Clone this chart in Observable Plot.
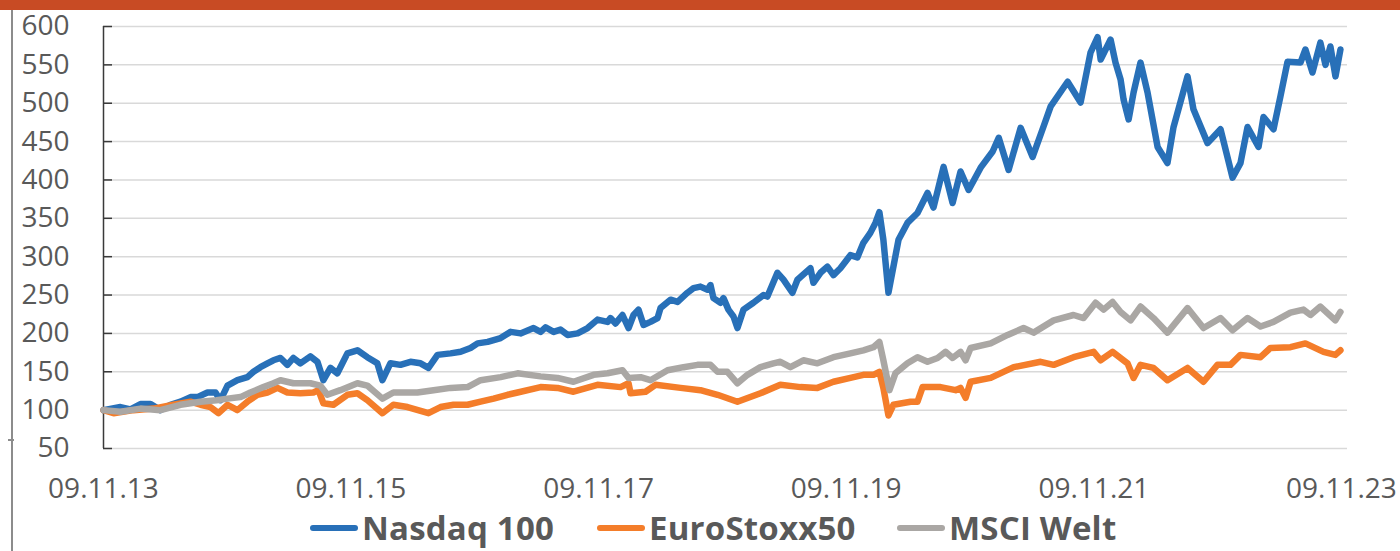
<!DOCTYPE html>
<html>
<head>
<meta charset="utf-8">
<script src="https://cdn.jsdelivr.net/npm/d3@7"></script>
<script src="https://cdn.jsdelivr.net/npm/@observablehq/plot@0.6"></script>
<style>
  html, body { margin: 0; padding: 0; background: #fff; }
  #wrap { position: relative; width: 1400px; height: 551px; overflow: hidden; background: #fff; }
  #banner { position: absolute; left: 0; top: 0; width: 1400px; height: 10px; background: #C84B24; }
  #leftline { position: absolute; left: 11px; top: 10px; width: 2px; height: 541px; background: #8C8C8C; }
  #lefttick { position: absolute; left: 8px; top: 439px; width: 6px; height: 2px; background: #8C8C8C; }
  #chart { position: absolute; left: 0; top: 0; }
  .leg { position: absolute; top: 511px; height: 33px; line-height: 33px; display: flex; align-items: center; font-family: "Open Sans", sans-serif; font-weight: 700; font-size: 33px; color: #595959; white-space: nowrap; letter-spacing: 0.2px; }
  .sw { width: 48px; height: 6px; border-radius: 3px; margin-right: 4px; }
</style>
</head>
<body>
<div id="wrap">
  <div id="banner"></div>
  <div id="leftline"></div>
  <div id="lefttick"></div>
  <div id="chart"></div>
  <div id="legend"></div>
</div>
<script>
// ---- Data (decimal years, index values, start = 100) ----
const seriesNames = ["Nasdaq 100", "EuroStoxx50", "MSCI Welt"];
const seriesColors = ["#2870B8", "#F47D2A", "#AAA7A4"];

const nasdaqTime = [2013.855,2013.992,2014.073,2014.154,2014.235,2014.315,2014.396,2014.477,2014.558,2014.614,2014.695,2014.760,2014.800,2014.857,2014.937,2015.018,2015.067,2015.123,2015.180,2015.228,2015.285,2015.341,2015.390,2015.446,2015.527,2015.584,2015.632,2015.689,2015.745,2015.826,2015.907,2015.987,2016.068,2016.109,2016.173,2016.254,2016.335,2016.416,2016.480,2016.553,2016.658,2016.739,2016.819,2016.876,2016.957,2017.062,2017.143,2017.223,2017.328,2017.385,2017.425,2017.490,2017.546,2017.603,2017.684,2017.765,2017.845,2017.926,2017.950,2017.991,2018.047,2018.096,2018.136,2018.176,2018.217,2018.273,2018.330,2018.354,2018.435,2018.492,2018.572,2018.621,2018.677,2018.734,2018.758,2018.782,2018.839,2018.863,2018.903,2018.944,2018.976,2019.025,2019.105,2019.186,2019.218,2019.299,2019.348,2019.420,2019.461,2019.566,2019.590,2019.647,2019.703,2019.752,2019.808,2019.889,2019.945,2019.994,2020.050,2020.091,2020.123,2020.155,2020.196,2020.236,2020.277,2020.349,2020.430,2020.511,2020.559,2020.640,2020.713,2020.777,2020.842,2020.939,2021.036,2021.085,2021.165,2021.262,2021.359,2021.448,2021.505,2021.642,2021.747,2021.827,2021.884,2021.909,2021.989,2022.029,2022.070,2022.094,2022.135,2022.175,2022.231,2022.288,2022.369,2022.449,2022.498,2022.611,2022.659,2022.773,2022.878,2022.975,2023.039,2023.096,2023.185,2023.225,2023.306,2023.362,2023.419,2023.524,2023.564,2023.621,2023.685,2023.726,2023.766,2023.807,2023.847];
const nasdaqValue = [100,104,101,108,108,100,107,111,117,117,123,123,113,132,139,143,150,156,161,165,168,159,168,161,170,163,139,155,148,174,178,169,161,139,161,159,163,161,155,172,174,176,181,187,189,194,202,200,207,202,208,202,205,198,200,207,218,215,220,213,224,207,224,231,211,215,220,233,244,241,253,259,261,257,263,246,240,246,231,222,207,231,240,250,248,279,270,253,270,285,266,279,287,276,285,302,299,318,331,344,358,322,253,287,322,344,357,383,364,417,370,411,387,416,437,455,413,468,430,470,496,528,501,566,586,557,583,553,531,505,479,514,553,514,443,422,469,535,492,448,466,403,422,469,443,482,466,509,554,553,570,540,579,550,574,535,570];

const euroTime = [2013.855,2013.936,2014.097,2014.259,2014.420,2014.558,2014.639,2014.719,2014.784,2014.857,2014.937,2015.018,2015.099,2015.180,2015.261,2015.341,2015.446,2015.551,2015.592,2015.632,2015.713,2015.826,2015.907,2015.987,2016.109,2016.197,2016.311,2016.480,2016.577,2016.682,2016.795,2016.900,2017.005,2017.118,2017.199,2017.385,2017.522,2017.651,2017.845,2018.031,2018.096,2018.112,2018.233,2018.314,2018.516,2018.677,2018.815,2018.976,2019.162,2019.323,2019.485,2019.622,2019.752,2019.889,2019.994,2020.075,2020.123,2020.155,2020.196,2020.236,2020.374,2020.430,2020.471,2020.616,2020.737,2020.777,2020.818,2020.858,2021.020,2021.206,2021.424,2021.529,2021.690,2021.852,2021.908,2022.005,2022.126,2022.175,2022.231,2022.336,2022.449,2022.611,2022.740,2022.853,2022.958,2023.039,2023.201,2023.281,2023.443,2023.564,2023.710,2023.806,2023.847];
const euroValue = [100,96,100,102,107,111,107,104,96,107,100,111,120,123,129,123,122,123,126,109,107,120,122,113,96,107,104,96,104,107,107,111,115,120,123,130,129,124,133,130,135,122,124,133,129,126,120,111,122,133,130,129,137,142,146,146,150,129,93,107,111,111,130,130,126,129,116,137,142,156,163,159,169,176,165,176,161,142,159,155,139,155,137,159,159,172,169,181,182,187,176,172,178];

const msciTime = [2013.855,2013.992,2014.154,2014.315,2014.477,2014.639,2014.768,2014.857,2014.962,2015.042,2015.147,2015.228,2015.285,2015.390,2015.527,2015.608,2015.664,2015.769,2015.907,2015.987,2016.109,2016.197,2016.391,2016.521,2016.658,2016.795,2016.900,2017.062,2017.199,2017.385,2017.522,2017.651,2017.813,2017.926,2018.047,2018.096,2018.193,2018.273,2018.411,2018.540,2018.653,2018.758,2018.815,2018.895,2018.976,2019.057,2019.162,2019.267,2019.323,2019.404,2019.509,2019.622,2019.752,2019.889,2019.994,2020.075,2020.123,2020.155,2020.204,2020.252,2020.349,2020.430,2020.511,2020.592,2020.656,2020.713,2020.777,2020.818,2020.858,2021.020,2021.157,2021.286,2021.367,2021.529,2021.690,2021.771,2021.868,2021.933,2022.005,2022.070,2022.151,2022.231,2022.336,2022.449,2022.530,2022.611,2022.740,2022.878,2022.975,2023.096,2023.201,2023.306,2023.443,2023.548,2023.605,2023.685,2023.806,2023.847];
const msciValue = [100,98,102,100,107,111,113,115,117,123,130,135,139,135,135,132,120,126,135,132,115,123,123,126,129,130,139,143,148,144,142,137,146,148,152,142,143,139,152,156,159,159,150,150,135,146,156,161,163,156,165,161,169,174,178,182,189,165,126,148,161,169,163,168,176,168,176,165,181,187,198,207,201,217,224,220,240,231,241,228,217,235,220,201,217,233,207,220,204,220,209,215,227,231,224,235,217,228];

const yTicks = [50,100,150,200,250,300,350,400,450,500,550,600];
const xTickDates = ["2013-11-09","2015-11-09","2017-11-09","2019-11-09","2021-11-09","2023-11-09"];
const xTickLabels = ["09.11.13","09.11.15","09.11.17","09.11.19","09.11.21","09.11.23"];
const xDomain = ["2013-11-09","2023-11-27"];
const yDomain = [50, 600];

// ---- Build ----
function toDate(d) {
  const y = Math.floor(d);
  const s = Date.UTC(y, 0, 1), e = Date.UTC(y + 1, 0, 1);
  return new Date(s + (d - y) * (e - s));
}
function build(times, values, name) {
  return times.map((t, i) => ({date: toDate(t), value: values[i], series: name}));
}
const nasdaq = build(nasdaqTime, nasdaqValue, seriesNames[0]);
const euro = build(euroTime, euroValue, seriesNames[1]);
const msci = build(msciTime, msciValue, seriesNames[2]);

const tickDates = xTickDates.map(s => new Date(s + "T00:00:00Z"));
const labelMap = new Map(tickDates.map((d, i) => [+d, xTickLabels[i]]));

const lineOpts = {x: "date", y: "value", strokeWidth: 6.5, strokeLinejoin: "round", strokeLinecap: "round"};

const chart = Plot.plot({
  width: 1400,
  height: 500,
  marginLeft: 103,
  marginRight: 53,
  marginTop: 26,
  marginBottom: 52,
  x: {type: "utc", domain: xDomain.map(s => new Date(s + "T00:00:00Z")), label: null},
  y: {domain: yDomain, label: null},
  style: {fontFamily: "'Open Sans', sans-serif", fontSize: "28px", color: "#595959", background: "transparent", overflow: "visible"},
  marks: [
    Plot.gridY(yTicks, {stroke: "#D9D9D9", strokeOpacity: 1, strokeWidth: 1.5}),
    Plot.tickY(yTicks, {stroke: "#3A3A3A", strokeWidth: 1.5, insetRight: 1235}),
    Plot.ruleX([tickDates[0]], {stroke: "#3A3A3A", strokeWidth: 1.5}),
    Plot.axisY(yTicks, {tickSize: 0, tickPadding: 34, fontSize: 28, fill: "#595959", label: null}),
    Plot.axisX(tickDates, {tickSize: 0, tickPadding: 30, fontSize: 28, fill: "#595959", label: null, tickFormat: d => labelMap.get(+d)}),
    Plot.line(nasdaq, {...lineOpts, stroke: seriesColors[0]}),
    Plot.line(euro, {...lineOpts, stroke: seriesColors[1]}),
    Plot.line(msci, {...lineOpts, stroke: seriesColors[2]})
  ]
});
document.getElementById("chart").appendChild(chart);

// ---- Legend ----
const legendLeft = [310, 597, 897];
const legend = document.getElementById("legend");
seriesNames.forEach((name, i) => {
  const item = document.createElement("div");
  item.className = "leg";
  item.style.left = legendLeft[i] + "px";
  const sw = document.createElement("span");
  sw.className = "sw";
  sw.style.background = seriesColors[i];
  const tx = document.createElement("span");
  tx.textContent = name;
  item.appendChild(sw);
  item.appendChild(tx);
  legend.appendChild(item);
});
</script>
</body>
</html>
